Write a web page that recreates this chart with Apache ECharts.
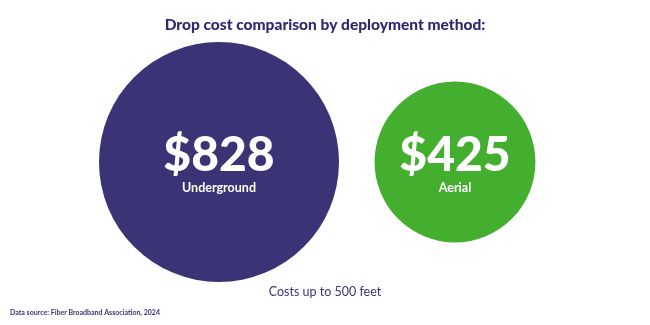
<!DOCTYPE html>
<html>
<head>
<meta charset="utf-8">
<script src="https://cdn.jsdelivr.net/npm/echarts@6/dist/echarts.min.js"></script>
<style>
  html, body { margin: 0; padding: 0; background: #fff; }
  #chart { width: 650px; height: 325px; }
</style>
</head>
<body>
<div id="chart"></div>
<script>
var methods = ['Underground', 'Aerial'];
var costs = [828, 425];
var colors = ['#3a3477', '#44ae2f'];

var chart = echarts.init(document.getElementById('chart'));

// circle diameter grows with cost (biggest one is 240px across)
function diameter(v) {
    return 240 * Math.pow(v / 828, 0.6);
}

var option = {
    animation: false,
    title: [{
        text: 'Drop cost comparison by deployment method:',
        left: 'center',
        top: 12,
        textStyle: { color: '#2f2a70', fontFamily: 'Lato', fontWeight: 900, fontSize: 15.5 }
    }, {
        text: 'Costs up to 500 feet',
        left: 'center',
        top: 280,
        textStyle: { color: '#3a3477', fontFamily: 'Lato', fontWeight: 'normal', fontSize: 12.5 }
    }, {
        text: 'Data source: Fiber Broadband Association, 2024',
        left: 5,
        top: 304,
        textStyle: { color: '#3a3477', fontFamily: 'Lato', fontWeight: 'bold', fontSize: 7 }
    }],
    grid: { left: 101, right: 77, top: 62, height: 200 },
    xAxis: {
        type: 'category',
        data: methods,
        show: false
    },
    yAxis: { type: 'value', min: -1, max: 1, show: false },
    series: [{
        type: 'scatter',
        data: costs.map(function (v, i) {
            return {
                value: [methods[i], 0, v],
                symbolSize: diameter(v),
                itemStyle: { color: colors[i], opacity: 1 }
            };
        }),
        label: {
            show: true,
            position: 'inside',
            offset: [0, 2],
            formatter: function (p) {
                return '{big|$' + p.value[2] + '}\n{small|' + p.value[0] + '}';
            },
            rich: {
                big: { color: '#fff', fontFamily: 'Lato', fontWeight: 900, fontSize: 48, lineHeight: 44, padding: [6, 0, 0, 0] },
                small: { color: '#fff', fontFamily: 'Lato', fontWeight: 'bold', fontSize: 12.5, lineHeight: 23, padding: [3, 0, 0, 0] }
            }
        }
    }]
};

chart.setOption(option);
</script>
</body>
</html>
